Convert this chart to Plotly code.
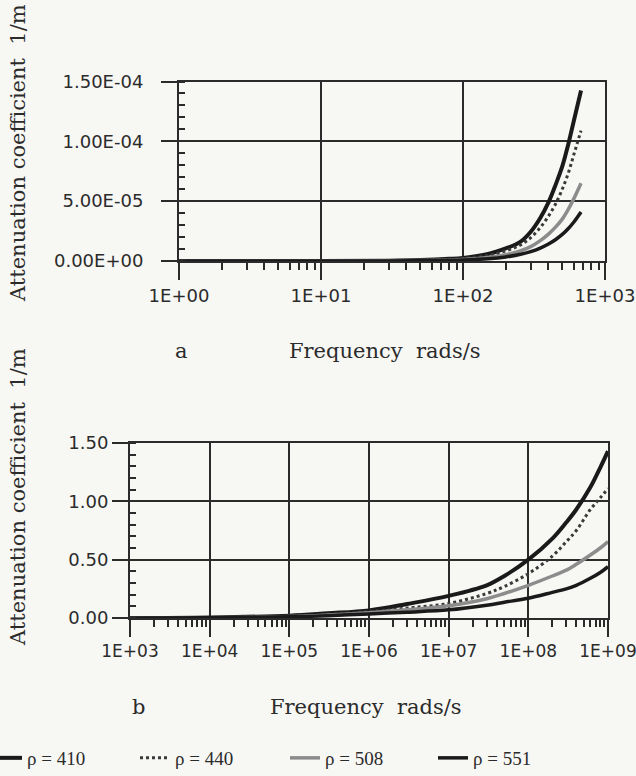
import plotly.graph_objects as go

# ---- data ----
series_names = ["ρ = 410", "ρ = 440", "ρ = 508", "ρ = 551"]

freq_a = [1, 10, 30, 50, 80, 100, 150, 200, 250, 300, 350, 400, 450, 500, 550, 600, 678]
att_a_410 = [0, 3e-8, 2.8e-7, 7.8e-7, 1.8e-6, 2.6e-6, 5.8e-6, 1.05e-5, 1.55e-5, 2.45e-5, 3.6e-5, 4.9e-5, 6.4e-5, 7.9e-5, 9.7e-5, 1.16e-4, 1.425e-4]
att_a_440 = [0, 2.4e-8, 2.2e-7, 6.0e-7, 1.4e-6, 2.1e-6, 4.6e-6, 8.5e-6, 1.3e-5, 1.95e-5, 2.8e-5, 3.75e-5, 4.8e-5, 6.0e-5, 7.3e-5, 8.8e-5, 1.09e-4]
att_a_508 = [0, 1.4e-8, 1.3e-7, 3.5e-7, 8.5e-7, 1.3e-6, 2.9e-6, 5.2e-6, 8.2e-6, 1.2e-5, 1.7e-5, 2.25e-5, 2.85e-5, 3.5e-5, 4.3e-5, 5.15e-5, 6.5e-5]
att_a_551 = [0, 9e-9, 8e-8, 2.3e-7, 5.6e-7, 8.5e-7, 1.9e-6, 3.4e-6, 5.4e-6, 7.8e-6, 1.08e-5, 1.42e-5, 1.8e-5, 2.22e-5, 2.7e-5, 3.22e-5, 4.1e-5]

freq_b = [1e3, 1e4, 1e5, 3e5, 1e6, 3e6, 1e7, 3e7, 5e7, 1e8, 2e8, 3e8, 4e8, 6e8, 8e8, 1e9]
att_b_410 = [0.0, 0.005, 0.02, 0.04, 0.065, 0.12, 0.19, 0.28, 0.36, 0.50, 0.68, 0.82, 0.93, 1.12, 1.29, 1.43]
att_b_440 = [0.0, 0.004, 0.015, 0.03, 0.055, 0.085, 0.125, 0.21, 0.27, 0.38, 0.53, 0.655, 0.75, 0.93, 1.03, 1.11]
att_b_508 = [0.0, 0.003, 0.012, 0.025, 0.045, 0.07, 0.105, 0.165, 0.21, 0.28, 0.36, 0.41, 0.46, 0.54, 0.60, 0.655]
att_b_551 = [0.0, 0.002, 0.01, 0.02, 0.035, 0.05, 0.07, 0.11, 0.135, 0.17, 0.22, 0.25, 0.28, 0.34, 0.39, 0.44]

xtick_a_vals = [1, 10, 100, 1000]
xtick_a_text = ["1E+00", "1E+01", "1E+02", "1E+03"]
ytick_a_vals = [0, 5e-5, 1e-4, 1.5e-4]
ytick_a_text = ["0.00E+00", "5.00E-05", "1.00E-04", "1.50E-04"]
xtick_b_vals = [1e3, 1e4, 1e5, 1e6, 1e7, 1e8, 1e9]
xtick_b_text = ["1E+03", "1E+04", "1E+05", "1E+06", "1E+07", "1E+08", "1E+09"]
ytick_b_vals = [0, 0.5, 1.0, 1.5]
ytick_b_text = ["0.00", "0.50", "1.00", "1.50"]

# ---- styles ----
INK = "#2b2b2b"
BG = "#f7f7f4"
styles = [
    dict(color="#1a1a1a", width=4, dash="solid"),
    dict(color="#3a3a3a", width=3, dash="dot"),
    dict(color="#8c8c8c", width=3.5, dash="solid"),
    dict(color="#1a1a1a", width=3.5, dash="solid"),
]
legend_ids = ["legend", "legend2", "legend3", "legend4"]
legend_px = [-13, 135, 285, 433]

W, H = 636, 776
def fx(px):
    return px / W
def fy(py):
    return 1 - py / H

fig = go.Figure()
for name, ys, st, lg in zip(series_names, [att_a_410, att_a_440, att_a_508, att_a_551], styles, legend_ids):
    fig.add_trace(go.Scatter(x=freq_a, y=ys, mode="lines", name=name, line=dict(shape="spline", **st),
                             xaxis="x", yaxis="y", showlegend=True, legend=lg))
for name, ys, st in zip(series_names, [att_b_410, att_b_440, att_b_508, att_b_551], styles):
    fig.add_trace(go.Scatter(x=freq_b, y=ys, mode="lines", name=name, line=dict(shape="spline", **st),
                             xaxis="x2", yaxis="y2", showlegend=False))

tickfont = dict(family="DejaVu Sans", size=18, color=INK)

common_x = dict(type="log", showgrid=True, gridcolor=INK, gridwidth=1.5, showline=True, linecolor=INK,
                linewidth=2, mirror=True, ticks="outside", ticklen=17, tickwidth=1.5, tickcolor=INK,
                tickfont=tickfont, zeroline=False, automargin=False, ticklabeloverflow="allow",
                minor=dict(ticks="outside", ticklen=7, tickwidth=1.5, tickcolor=INK, showgrid=False, dtick="D1"))
common_y = dict(showgrid=True, gridcolor=INK, gridwidth=1.5, showline=True, linecolor=INK, linewidth=2,
                mirror=True, ticks="outside", ticklen=16, tickwidth=1.5, tickcolor=INK, tickfont=tickfont,
                zeroline=False, automargin=False,
                minor=dict(ticks="inside", ticklen=6, tickwidth=1.5, tickcolor=INK, showgrid=False))

legend_font = dict(family="Liberation Serif", size=19, color=INK)
legends = {}
for lg, px in zip(legend_ids, legend_px):
    legends[lg] = dict(x=fx(px), y=fy(758), xanchor="left", yanchor="middle", orientation="h",
                       bgcolor="rgba(0,0,0,0)", borderwidth=0, font=legend_font, itemwidth=30)

fig.update_layout(
    width=W, height=H, margin=dict(l=0, r=0, t=0, b=0, autoexpand=False),
    paper_bgcolor=BG, plot_bgcolor=BG,
    xaxis=dict(common_x, domain=[fx(179), fx(605)], range=[0, 3], anchor="y",
               tickvals=xtick_a_vals, ticktext=xtick_a_text),
    yaxis=dict(common_y, domain=[fy(261), fy(81.5)], range=[0, 1.5e-4], anchor="x",
               tickvals=ytick_a_vals, ticktext=ytick_a_text, ticklabelstandoff=14,
               minor=dict(common_y["minor"], dtick=1e-5, tick0=0)),
    xaxis2=dict(common_x, domain=[fx(130), fx(608)], range=[3, 9], anchor="y2",
                tickvals=xtick_b_vals, ticktext=xtick_b_text,
                tickfont=dict(tickfont, size=17)),
    yaxis2=dict(common_y, domain=[fy(618), fy(443)], range=[0, 1.5], anchor="x2",
                tickvals=ytick_b_vals, ticktext=ytick_b_text,
                minor=dict(common_y["minor"], dtick=0.1, tick0=0)),
    showlegend=True,
    **legends,
)

serif = dict(family="DejaVu Serif", size=21, color=INK)
ann = [
    dict(text="Attenuation coefficient  1/m", x=fx(18), y=fy(153), textangle=-90),
    dict(text="Attenuation coefficient  1/m", x=fx(18), y=fy(497), textangle=-90),
    dict(text="a", x=fx(181), y=fy(351)),
    dict(text="Frequency  rads/s", x=fx(385), y=fy(351)),
    dict(text="b", x=fx(138), y=fy(707)),
    dict(text="Frequency  rads/s", x=fx(366), y=fy(707)),
]
for a in ann:
    fig.add_annotation(xref="paper", yref="paper", showarrow=False, font=serif,
                       xanchor="center", yanchor="middle", **a)

fig.write_html("out.html", config={"displayModeBar": False},
               post_script="document.body.style.margin='0';")
